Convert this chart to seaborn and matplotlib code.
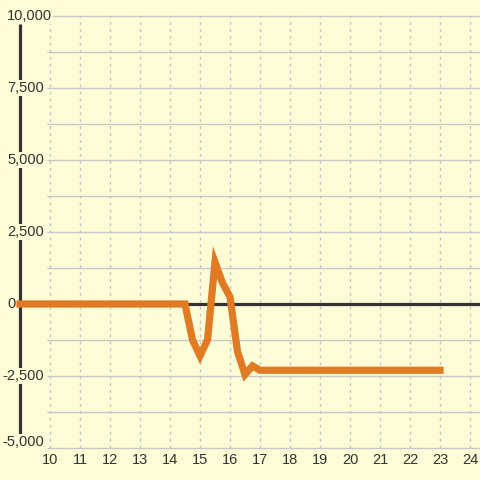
import numpy as np
import pandas as pd
import matplotlib
matplotlib.use("Agg")
import matplotlib.pyplot as plt
import seaborn as sns

# data
x_vals = [9, 10, 11, 12, 13, 14, 14.5, 14.75, 15, 15.25, 15.5, 15.75, 16, 16.25,
          16.5, 16.75, 17, 18, 19, 20, 21, 22, 23]
y_vals = [0, 0, 0, 0, 0, 0, 0, -1250, -1800, -1250, 1450, 730, 250, -1650,
          -2450, -2150, -2300, -2300, -2300, -2300, -2300, -2300, -2300]
x_ticks = list(range(10, 25))
y_ticks = [-5000, -2500, 0, 2500, 5000, 7500, 10000]
y_grid = list(range(-5000, 10001, 1250))

df = pd.DataFrame({"x": x_vals, "y": y_vals})

bg = "#fcfcd6"
txt = "#333333"
sns.set_theme(style="white")
plt.rcParams["font.family"] = ["Liberation Sans", "DejaVu Sans"]

fig = plt.figure(figsize=(4.8, 4.8), dpi=100, facecolor=bg)
ax = fig.add_axes([0, 0, 1, 1])
ax.set_facecolor(bg)
x0 = 9 - 20 / 30
ax.set_xlim(x0, x0 + 16)
ax.set_ylim(-176 * 2500 / 72, 304 * 2500 / 72)
ax.axis("off")

# grid
ax.hlines(y_grid, 9.9, 25, color="#c8c8c8", lw=1, zorder=1)
ax.vlines(x_ticks, -5000, 10000, color="#c4c4c4", lw=1, ls=(0, (2, 3)), zorder=1)

# zero line and left axis
ax.hlines(0, 9, 25, color="#333333", lw=2.3, zorder=2)
ax.vlines(9, -4550, 9720, color="#333333", lw=2.3, zorder=2)

sns.lineplot(data=df, x="x", y="y", ax=ax, color="#e07b24", lw=5.2,
             solid_capstyle="projecting", solid_joinstyle="miter", zorder=4)

for v in y_ticks:
    left_px = 2 if v < 0 else 7
    ax.text(x0 + left_px / 30, v + (210 if v == -5000 else 0), f"{v:,}",
            ha="left", va="center", fontsize=10.5, color=txt, zorder=3,
            bbox=dict(boxstyle="square,pad=0.05", fc=bg, ec="none"))
for v in x_ticks:
    ax.text(v, -5434, str(v), ha="center", va="center", fontsize=10.5, color=txt)

fig.savefig("out.png", dpi=100, facecolor=bg)
